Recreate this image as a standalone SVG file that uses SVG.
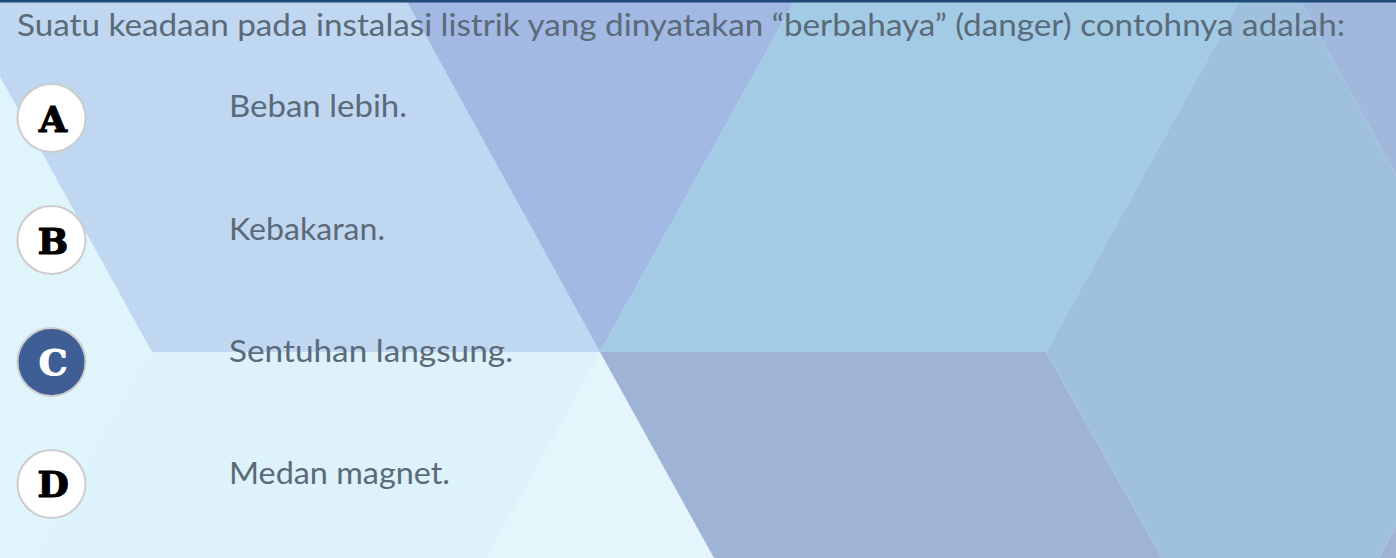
<svg xmlns="http://www.w3.org/2000/svg" width="1396" height="558" viewBox="0 0 1396 558">
<style>
.q{font-family:Lato,"Noto Sans","Liberation Sans",sans-serif;font-size:30px;fill:#5b6a79}
.ring{fill:#ffffff;stroke:#cccccc;stroke-width:2}
.ring.sel{fill:#3f5e95}
.let{font-family:"DejaVu Serif","Liberation Serif",serif;font-weight:bold;font-size:36px;fill:#000000;stroke:#000000;stroke-width:1.2;text-anchor:middle}
.let.sel{fill:#ffffff;stroke:#ffffff}
</style>
<g id="background">
<rect x="0" y="0" width="1396" height="558" fill="#ddf2fb"/>
<polygon points="0,77 152,352 36,558 0,558" fill="#e0f4fc"/>
<polygon points="600,352 486,558 714,558" fill="#e5f5fc"/>
<polygon points="-42,0 406,0 600,352 152,352" fill="#c0d7f1"/>
<polygon points="406,0 795,0 600,352" fill="#a2b9e3"/>
<polygon points="795,0 1240,0 1046,352 600,352" fill="#a3cbe6"/>
<polygon points="600,352 1046,352 1162,558 714,558" fill="#9fb3d7"/>
<polygon points="1240,0 1300,0 1396,175 1396,527 1379,558 1162,558 1046,352" fill="#a0c1de"/>
<polygon points="1300,0 1396,0 1396,175" fill="#a0b8db"/>
<polygon points="1396,527 1396,558 1379,558" fill="#9fb3d7"/>
<rect x="0" y="0" width="1396" height="2.5" fill="#1f4a78"/>
</g>
<g id="question">
<text class="q" x="17" y="36" textLength="1328" lengthAdjust="spacingAndGlyphs">Suatu keadaan pada instalasi listrik yang dinyatakan “berbahaya” (danger) contohnya adalah:</text>
</g>
<g id="option-a">
<circle class="ring" cx="51.5" cy="118" r="34"/>
<text class="let" x="53" y="131.5">A</text>
<text class="q" x="229" y="117" textLength="178" lengthAdjust="spacingAndGlyphs">Beban lebih.</text>
</g>
<g id="option-b">
<circle class="ring" cx="51.5" cy="240" r="34"/>
<text class="let" x="53" y="253.5">B</text>
<text class="q" x="229" y="239.5" textLength="156" lengthAdjust="spacingAndGlyphs">Kebakaran.</text>
</g>
<g id="option-c">
<circle class="ring sel" cx="51.5" cy="362" r="34"/>
<text class="let sel" x="53" y="375">C</text>
<text class="q" x="229" y="362" textLength="284" lengthAdjust="spacingAndGlyphs">Sentuhan langsung.</text>
</g>
<g id="option-d">
<circle class="ring" cx="51.5" cy="484" r="34"/>
<text class="let" x="53" y="497">D</text>
<text class="q" x="229" y="484" textLength="221" lengthAdjust="spacingAndGlyphs">Medan magnet.</text>
</g>
</svg>
